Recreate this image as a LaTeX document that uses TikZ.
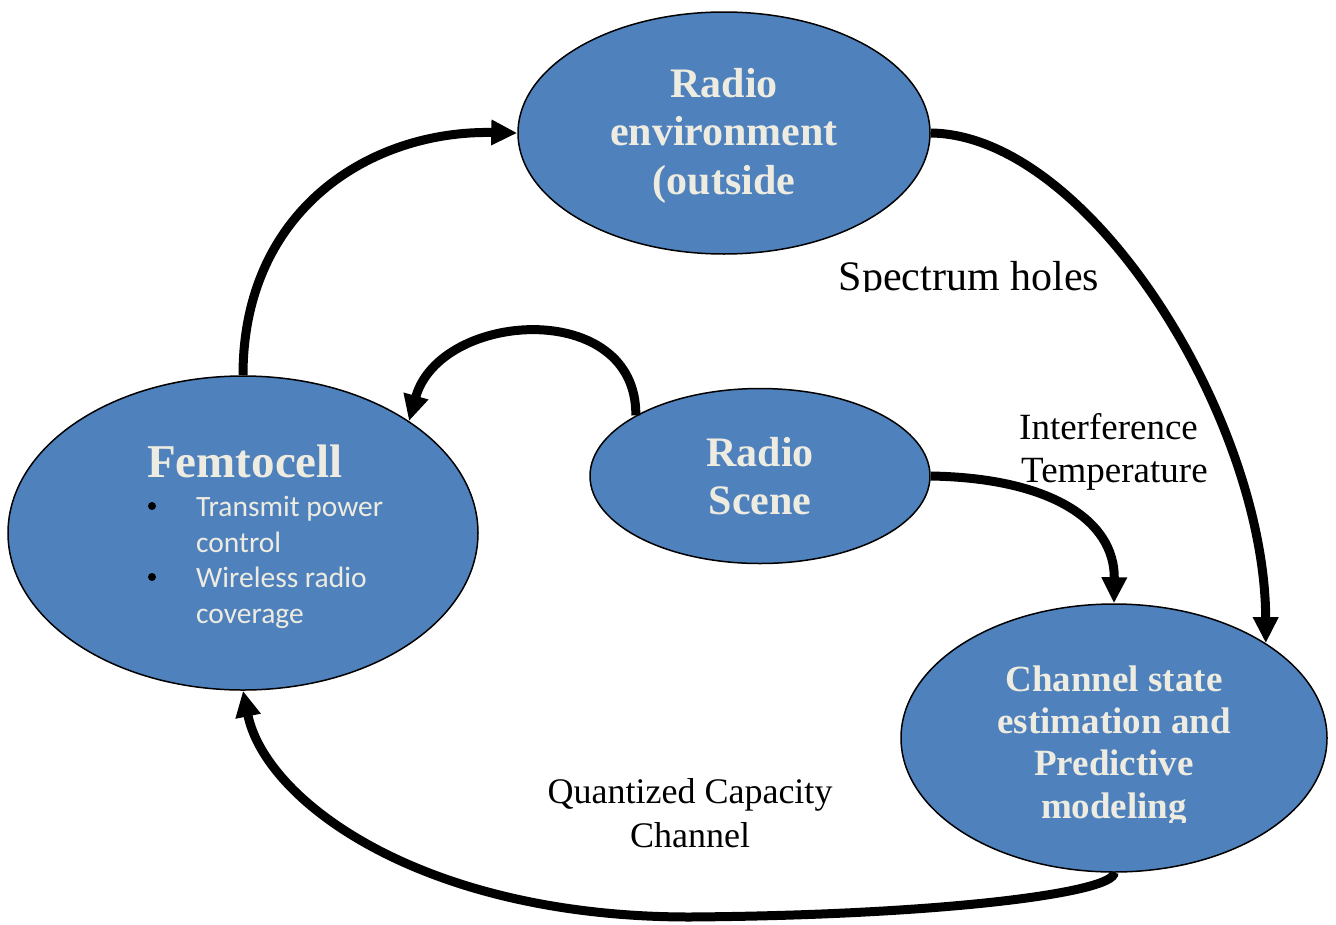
\documentclass[tikz,border=0pt]{standalone}
\usepackage{fontspec}
\setmainfont{Liberation Serif}
\newfontfamily\bulletfont{Carlito}
\usetikzlibrary{arrows.meta,shapes.geometric}
\definecolor{cellblue}{HTML}{4F81BD}
\definecolor{celltext}{HTML}{EEECE1}

\begin{document}
\begin{tikzpicture}[x=1pt,y=-1pt,
  bubble/.style={ellipse, draw=black, line width=1.5pt, fill=cellblue, inner sep=0pt},
  head/.style={text=celltext, inner sep=0pt, anchor=base,
    font=\bfseries\fontsize{#1}{#1}\selectfont},
  item/.style={text=celltext, inner sep=0pt, anchor=base west,
    font=\bulletfont\fontsize{29.5}{29.5}\selectfont},
  dot/.style={circle, fill=black, inner sep=0pt, minimum size=8pt},
  note/.style={text=black, inner sep=0pt, anchor=base,
    font=\fontsize{#1}{#1}\selectfont},
  flow/.style={line width=9pt, -{Triangle[length=26pt,width=24pt]}},
]
\useasboundingbox (0,0) rectangle (1336,924);

% ellipses
\node[bubble, minimum width=412pt, minimum height=242pt] (env) at (724,133) {};
\node[bubble, minimum width=470pt, minimum height=314pt] (fem) at (243,533) {};
\node[bubble, minimum width=340pt, minimum height=175pt] (scene) at (760,476) {};
\node[bubble, minimum width=426pt, minimum height=268pt] (chan) at (1114,738) {};

% text inside the ellipses
\node[head=42] (env1) at (724,97) {Radio};
\node[head=42] (env2) at (724,145) {environment};
\node[head=42] (env3) at (724,194) {(outside};

\node[head=42] (sc1) at (760,466) {Radio};
\node[head=42] (sc2) at (760,514) {Scene};

\node[head=37] (ch1) at (1114,691) {Channel state};
\node[head=37] (ch2) at (1114,733) {estimation and};
\node[head=37] (ch3) at (1114,775) {Predictive};
\begin{scope}
  \clip (950,790) rectangle (1280,822);
  \node[head=37] (ch4) at (1114,818) {modeling};
\end{scope}

\node[head=47] (femt) at (245,477) {Femtocell};
\node[dot] (b1) at (152,506) {};
\node[dot] (b2) at (152,577) {};
\node[item] (it1) at (196,516) {Transmit power};
\node[item] (it2) at (196,552) {control};
\node[item] (it3) at (196,587) {Wireless radio};
\node[item] (it4) at (196,623) {coverage};

% connector labels
\begin{scope}
  \clip (800,240) rectangle (1140,291);
  \node[note=42] (holes) at (969,290) {Spectrum holes};
\end{scope}
\node[note=37, anchor=base west] (it1l) at (1019,439) {Interference};
\node[note=37, anchor=base west] (it2l) at (1021,482) {Temperature};
\node[note=36] (qc1) at (690,803) {Quantized Capacity};
\node[note=36] (qc2) at (690,847) {Channel};

% connectors
\draw[flow] (fem.north) .. controls (243,210) and (370,130) .. (env.west);
\draw[flow] (env.east) .. controls (1090,135) and (1265,420) .. (chan.32);
\draw[flow] (scene.154) .. controls (637,298) and (440,310) .. (fem.34);
\draw[flow] (scene.east) .. controls (1050,478) and (1115,520) .. (chan.north);
\draw[flow] (chan.south) .. controls (1115,892) and (950,915) .. (690,917)
  .. controls (420,917) and (265,800) .. (fem.south);
\end{tikzpicture}
\end{document}
